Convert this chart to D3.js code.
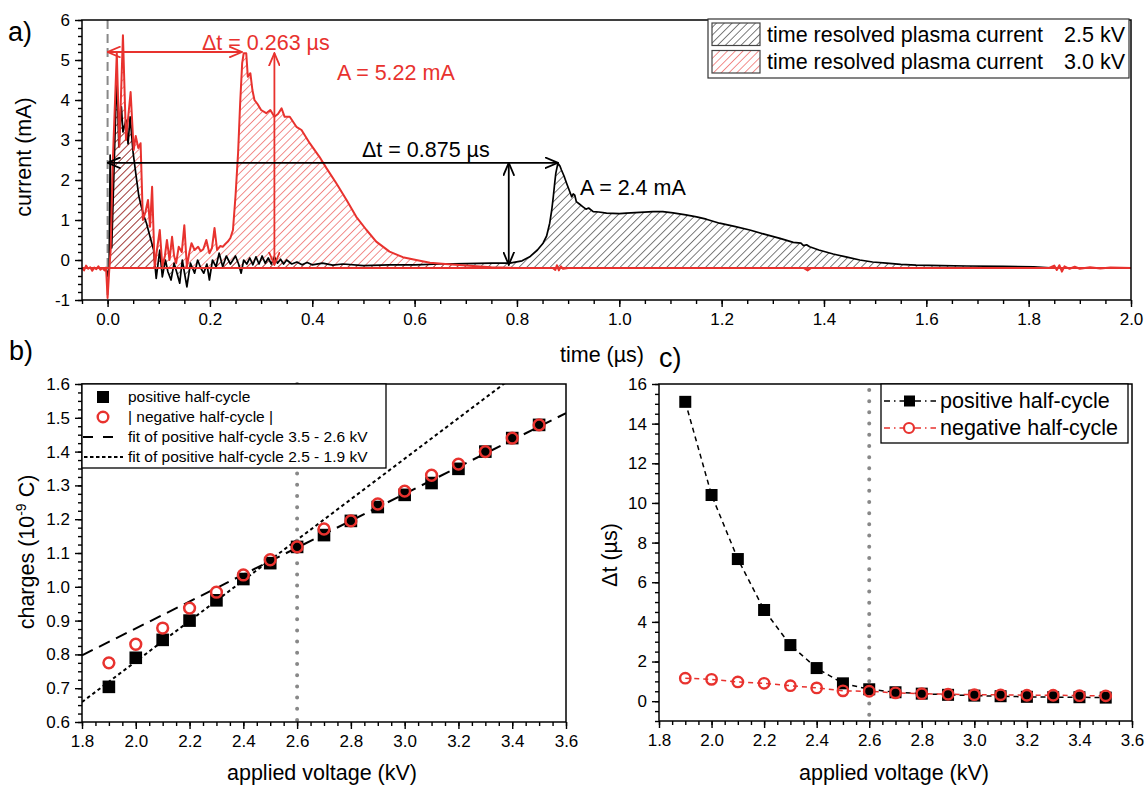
<!DOCTYPE html>
<html>
<head>
<meta charset="utf-8">
<script src="https://cdn.jsdelivr.net/npm/d3@7"></script>
<style>
  body { margin: 0; background: #fff; }
  svg { font-family: "Liberation Sans", Arial, sans-serif; }
</style>
</head>
<body>
<svg id="chart" width="1146" height="787"></svg>
<script>
// ---------- data ----------
// a) time resolved plasma current, [time (µs), current (mA)]
const trace30kV = [[-0.05,-0.2],[-0.046,-0.26],[-0.042,-0.14],[-0.038,-0.22],[-0.034,-0.18],[-0.03,-0.27],[-0.026,-0.19],[-0.022,-0.23],[-0.018,-0.16],[-0.014,-0.24],[-0.01,-0.2],[-0.006,-0.26],[-0.003,-0.19],[0,-0.95],[0.003,-0.3],[0.006,0.25],[0.01,2.4],[0.018,5.17],[0.023,2.83],[0.03,5.62],[0.036,3.0],[0.045,4.2],[0.051,2.75],[0.055,3.1],[0.06,2.8],[0.0645,2.92],[0.069,1.0],[0.074,1.2],[0.079,1.5],[0.083,0.83],[0.087,1.83],[0.092,-0.17],[0.097,0.3],[0.102,0.75],[0.107,-0.15],[0.112,0.1],[0.116,0.5],[0.121,0.0],[0.126,0.58],[0.13,0.1],[0.134,-0.08],[0.139,0.33],[0.145,0.2],[0.15,0.87],[0.155,-0.17],[0.16,0.2],[0.164,0.42],[0.17,0.25],[0.177,0.33],[0.182,0.22],[0.187,0.27],[0.193,0.5],[0.199,0.17],[0.204,0.3],[0.209,0.8],[0.214,0.25],[0.22,0.35],[0.225,0.33],[0.23,0.4],[0.235,0.46],[0.24,0.55],[0.245,0.75],[0.25,1.6],[0.255,2.67],[0.259,3.9],[0.263,4.92],[0.266,5.17],[0.271,5.17],[0.274,4.58],[0.279,4.67],[0.283,4.25],[0.287,4.0],[0.293,3.9],[0.3,3.75],[0.31,3.67],[0.318,3.75],[0.326,3.58],[0.333,3.65],[0.34,3.79],[0.346,3.58],[0.356,3.58],[0.369,3.33],[0.379,3.25],[0.395,2.92],[0.414,2.58],[0.428,2.29],[0.447,1.92],[0.467,1.5],[0.486,1.08],[0.506,0.75],[0.525,0.46],[0.551,0.21],[0.577,0.07],[0.603,0.0],[0.63,-0.07],[0.66,-0.1],[0.7,-0.14],[0.75,-0.18],[0.8,-0.2],[0.87,-0.2],[0.875,-0.25],[0.878,-0.13],[0.882,-0.26],[0.886,-0.16],[0.89,-0.22],[0.9,-0.2],[1.36,-0.2],[1.368,-0.26],[1.375,-0.2],[1.84,-0.2],[1.85,-0.14],[1.855,-0.25],[1.86,-0.13],[1.865,-0.29],[1.87,-0.16],[1.88,-0.22],[1.89,-0.17],[1.9,-0.22],[1.92,-0.18],[1.94,-0.21],[1.96,-0.19],[2.0,-0.2]];

const trace25kV = [[-0.05,-0.2],[-0.003,-0.2],[0,-0.4],[0.003,-0.2],[0.005,2.62],[0.008,0.3],[0.012,2.0],[0.018,4.67],[0.022,2.83],[0.027,3.83],[0.03,3.2],[0.036,3.5],[0.04,2.9],[0.044,3.58],[0.05,2.67],[0.056,2.08],[0.061,1.6],[0.066,1.33],[0.071,1.1],[0.076,0.92],[0.083,0.58],[0.09,0.25],[0.095,-0.46],[0.102,0.25],[0.107,-0.42],[0.113,0.0],[0.118,-0.3],[0.124,-0.5],[0.13,-0.08],[0.135,-0.3],[0.141,-0.58],[0.146,0.0],[0.15,-0.3],[0.155,-0.67],[0.162,-0.08],[0.17,-0.33],[0.176,0.0],[0.182,-0.2],[0.188,-0.33],[0.194,-0.1],[0.199,-0.5],[0.205,0.0],[0.212,-0.17],[0.218,0.17],[0.225,-0.17],[0.232,0.1],[0.24,-0.1],[0.25,0.1],[0.256,-0.1],[0.261,-0.33],[0.266,0.0],[0.272,-0.1],[0.278,0.05],[0.284,-0.12],[0.29,0.08],[0.296,-0.1],[0.302,0.1],[0.308,-0.08],[0.314,0.05],[0.32,-0.1],[0.326,0.08],[0.332,-0.08],[0.338,0.02],[0.344,-0.1],[0.35,0.0],[0.36,-0.1],[0.37,-0.05],[0.38,-0.12],[0.39,-0.06],[0.4,-0.12],[0.42,-0.08],[0.44,-0.13],[0.46,-0.1],[0.5,-0.14],[0.55,-0.12],[0.6,-0.12],[0.65,-0.1],[0.7,-0.09],[0.75,-0.08],[0.786,-0.08],[0.81,-0.02],[0.825,0.08],[0.84,0.25],[0.851,0.42],[0.858,0.6],[0.864,0.92],[0.868,1.25],[0.871,1.58],[0.874,1.95],[0.876,2.17],[0.88,2.42],[0.884,2.35],[0.887,2.25],[0.892,2.1],[0.897,1.92],[0.902,1.75],[0.907,1.58],[0.91,1.65],[0.913,1.62],[0.916,1.46],[0.922,1.4],[0.929,1.33],[0.935,1.27],[0.94,1.3],[0.949,1.21],[0.96,1.2],[0.975,1.17],[1.0,1.16],[1.014,1.17],[1.04,1.19],[1.066,1.21],[1.085,1.21],[1.105,1.18],[1.13,1.13],[1.151,1.08],[1.17,1.02],[1.196,0.92],[1.225,0.84],[1.255,0.75],[1.285,0.64],[1.314,0.54],[1.34,0.44],[1.355,0.42],[1.36,0.36],[1.366,0.38],[1.372,0.33],[1.39,0.25],[1.418,0.15],[1.445,0.07],[1.47,0.0],[1.495,-0.05],[1.522,-0.08],[1.55,-0.11],[1.58,-0.13],[1.63,-0.14],[1.679,-0.15],[1.75,-0.16],[1.81,-0.17],[1.85,-0.2],[2.0,-0.2]];

const baseline = -0.2;
const timeTicks = [0, 0.2, 0.4, 0.6, 0.8, 1.0, 1.2, 1.4, 1.6, 1.8, 2.0];
const currentTicks = [-1, 0, 1, 2, 3, 4, 5, 6];
const legendA = [["time resolved plasma current", "2.5 kV"], ["time resolved plasma current", "3.0 kV"]];

// b) and c)
const voltage   = [1.9, 2.0, 2.1, 2.2, 2.3, 2.4, 2.5, 2.6, 2.7, 2.8, 2.9, 3.0, 3.1, 3.2, 3.3, 3.4, 3.5];
const chargePos = [0.704, 0.79, 0.843, 0.90, 0.96, 1.023, 1.07, 1.118, 1.153, 1.195, 1.236, 1.272, 1.307, 1.349, 1.40, 1.44, 1.479];
const chargeNeg = [0.775, 0.83, 0.878, 0.937, 0.984, 1.035, 1.08, 1.118, 1.171, 1.195, 1.245, 1.283, 1.33, 1.363, 1.40, 1.44, 1.479];
const fitHigh = [0.081, 0.398];   // intercept, slope (3.5 - 2.6 kV)
const fitLow  = [-0.421, 0.60];   // intercept, slope (2.5 - 1.9 kV)
const dtPos = [15.1, 10.4, 7.17, 4.6, 2.83, 1.67, 0.9, 0.6, 0.45, 0.38, 0.32, 0.28, 0.25, 0.22, 0.2, 0.2, 0.18];
const dtNeg = [1.16, 1.1, 0.97, 0.9, 0.78, 0.67, 0.52, 0.5, 0.42, 0.38, 0.35, 0.33, 0.32, 0.3, 0.3, 0.28, 0.27];
const voltTicks = [1.8, 2.0, 2.2, 2.4, 2.6, 2.8, 3.0, 3.2, 3.4, 3.6];
const chargeTicks = [0.6, 0.7, 0.8, 0.9, 1.0, 1.1, 1.2, 1.3, 1.4, 1.5, 1.6];
const dtTicks = [0, 2, 4, 6, 8, 10, 12, 14, 16];
const thresholdVoltage = 2.6;

const RED = "#e8322e";
const FONT = "Liberation Sans, Arial, sans-serif";

const svg = d3.select("#chart");
const defs = svg.append("defs");

// hatch patterns
function hatch(id, color) {
  const p = defs.append("pattern").attr("id", id).attr("patternUnits", "userSpaceOnUse")
    .attr("width", 5.5).attr("height", 5.5).attr("patternTransform", "rotate(45)");
  p.append("line").attr("x1", 0).attr("y1", 0).attr("x2", 0).attr("y2", 5.5)
    .attr("stroke", color).attr("stroke-width", 1.1);
}
hatch("hatchBlack", "#111");
hatch("hatchRed", RED);

// open arrow heads
function arrowHead(id, color) {
  defs.append("marker").attr("id", id).attr("viewBox", "0 0 14 12")
    .attr("refX", 13).attr("refY", 6).attr("markerWidth", 14).attr("markerHeight", 12)
    .attr("markerUnits", "userSpaceOnUse").attr("orient", "auto-start-reverse")
    .append("path").attr("d", "M0,0.5 L13,6 L0,11.5").attr("fill", "none")
    .attr("stroke", color).attr("stroke-width", 1.8);
}
arrowHead("arrRed", RED);
arrowHead("arrBlack", "#000");

function clip(id, x, y, w, h) {
  defs.append("clipPath").attr("id", id).append("rect")
    .attr("x", x).attr("y", y).attr("width", w).attr("height", h);
}

// draws left + bottom axes with major and minor ticks, plus the frame
function axes(g, x, y, o) {
  const [x0, x1] = x.range(), [y0, y1] = y.range();
  const style = sel => sel.attr("font-size", 17).attr("font-family", FONT)
    .call(s => s.select(".domain").remove())
    .call(s => s.selectAll("line").attr("stroke-width", 1.4));
  g.append("g").attr("transform", `translate(0,${y0})`)
    .call(d3.axisBottom(x).tickValues(o.xMinor).tickSize(4).tickFormat("")).call(style);
  g.append("g").attr("transform", `translate(0,${y0})`)
    .call(d3.axisBottom(x).tickValues(o.xMajor).tickSize(7).tickPadding(6).tickFormat(o.xFmt)).call(style);
  g.append("g").attr("transform", `translate(${x0},0)`)
    .call(d3.axisLeft(y).tickValues(o.yMinor).tickSize(4).tickFormat("")).call(style);
  g.append("g").attr("transform", `translate(${x0},0)`)
    .call(d3.axisLeft(y).tickValues(o.yMajor).tickSize(7).tickPadding(5).tickFormat(o.yFmt)).call(style);
  g.append("rect").attr("x", x0).attr("y", y1).attr("width", x1 - x0).attr("height", y0 - y1)
    .attr("fill", "none").attr("stroke", "#000").attr("stroke-width", 1.5);
}

function label(g, txt, x, y, size, opts = {}) {
  const t = g.append("text").attr("x", x).attr("y", y).attr("font-size", size)
    .attr("fill", opts.fill || "#000").attr("text-anchor", opts.anchor || "start").text(txt);
  if (opts.rotate) t.attr("transform", `rotate(-90,${x},${y})`);
  return t;
}

// ---------- panel a ----------
const xA = d3.scaleLinear().domain([-0.05, 2.0]).range([82, 1131]);
const yA = d3.scaleLinear().domain([-1, 6]).range([300, 20]);
const gA = svg.append("g");
clip("clipA", 82, 20, 1049, 280);
const plotA = gA.append("g").attr("clip-path", "url(#clipA)");

const areaA = d3.area().x(d => xA(d[0])).y0(yA(baseline)).y1(d => yA(d[1]));
const lineA = d3.line().x(d => xA(d[0])).y(d => yA(d[1]));

plotA.append("line").attr("x1", xA(0)).attr("x2", xA(0)).attr("y1", yA(6)).attr("y2", yA(-1))
  .attr("stroke", "#888").attr("stroke-width", 2).attr("stroke-dasharray", "9,5");
plotA.append("path").datum(trace25kV).attr("d", areaA).attr("fill", "url(#hatchBlack)");
plotA.append("path").datum(trace30kV).attr("d", areaA).attr("fill", "url(#hatchRed)");
plotA.append("path").datum(trace25kV).attr("d", lineA).attr("fill", "none")
  .attr("stroke", "#000").attr("stroke-width", 1.7).attr("stroke-linejoin", "round");
plotA.append("line").attr("x1", xA(-0.05)).attr("x2", xA(2.0)).attr("y1", yA(baseline)).attr("y2", yA(baseline))
  .attr("stroke", RED).attr("stroke-width", 2.2);
plotA.append("path").datum(trace30kV).attr("d", lineA).attr("fill", "none")
  .attr("stroke", RED).attr("stroke-width", 2).attr("stroke-linejoin", "round");

axes(gA, xA, yA, {
  xMajor: timeTicks, xMinor: d3.range(0, 42).map(i => -0.05 + i * 0.05), xFmt: d3.format(".1f"),
  yMajor: currentTicks, yMinor: d3.range(0, 36).map(i => -1 + i * 0.2), yFmt: d => String(d)
});

// annotations (data units)
function arrow(g, t0, v0, t1, v1, color, id) {
  g.append("line").attr("x1", xA(t0)).attr("y1", yA(v0)).attr("x2", xA(t1)).attr("y2", yA(v1))
    .attr("stroke", color).attr("stroke-width", 1.8)
    .attr("marker-start", `url(#${id})`).attr("marker-end", `url(#${id})`);
}
arrow(gA, 0, 5.2, 0.263, 5.2, RED, "arrRed");
arrow(gA, 0.326, 5.17, 0.326, -0.12, RED, "arrRed");
arrow(gA, 0, 2.43, 0.88, 2.43, "#000", "arrBlack");
arrow(gA, 0.784, 2.43, 0.784, -0.12, "#000", "arrBlack");
label(gA, "Δt = 0.263 µs", 202, 50, 21.5, { fill: RED });
label(gA, "A = 5.22 mA", 337, 80, 21.5, { fill: RED });
label(gA, "Δt = 0.875 µs", 362, 157, 21.5);
label(gA, "A = 2.4 mA", 580, 195, 21.5);

// legend a
const legA = gA.append("g");
legA.append("rect").attr("x", 708).attr("y", 19).attr("width", 421).attr("height", 59)
  .attr("fill", "#fff").attr("stroke", "#333").attr("stroke-width", 1.2);
legendA.forEach(([txt, kv], i) => {
  legA.append("rect").attr("x", 712).attr("y", 23 + i * 27.5).attr("width", 48).attr("height", 22.5)
    .attr("fill", `url(#${i === 0 ? "hatchBlack" : "hatchRed"})`).attr("stroke", "#444").attr("stroke-width", 1.2);
  label(legA, txt, 767, 42 + i * 27, 21.5);
  label(legA, kv, 1125, 42 + i * 27, 21.5, { anchor: "end" });
});

label(gA, "current (mA)", 31, 157, 21.5, { rotate: true, anchor: "middle" });
label(gA, "time (µs)", 602, 362, 21.5, { anchor: "middle" });
label(svg, "a)", 8, 41, 27);

// ---------- panel b ----------
const xB = d3.scaleLinear().domain([1.8, 3.6]).range([82, 566]);
const yB = d3.scaleLinear().domain([0.6, 1.6]).range([722, 384]);
const gB = svg.append("g");
clip("clipB", 82, 384, 484, 338);
const plotB = gB.append("g").attr("clip-path", "url(#clipB)");

const fitLine = c => d3.line().x(v => xB(v)).y(v => yB(c[0] + c[1] * v));
plotB.append("path").datum([1.8, 3.6]).attr("d", fitLine(fitHigh)).attr("fill", "none")
  .attr("stroke", "#000").attr("stroke-width", 2).attr("stroke-dasharray", "12,7");
plotB.append("path").datum([1.8, 3.6]).attr("d", fitLine(fitLow)).attr("fill", "none")
  .attr("stroke", "#000").attr("stroke-width", 2).attr("stroke-dasharray", "3.5,3");

gB.append("line").attr("x1", xB(thresholdVoltage)).attr("x2", xB(thresholdVoltage))
  .attr("y1", yB(1.6)).attr("y2", yB(0.6)).attr("stroke", "#888").attr("stroke-width", 4)
  .attr("stroke-linecap", "round").attr("stroke-dasharray", "0,11.2");

axes(gB, xB, yB, {
  xMajor: voltTicks, xMinor: d3.range(0, 37).map(i => 1.8 + i * 0.05), xFmt: d3.format(".1f"),
  yMajor: chargeTicks, yMinor: d3.range(0, 41).map(i => 0.6 + i * 0.025), yFmt: d3.format(".1f")
});

// legend b
const legB = gB.append("g");
legB.append("rect").attr("x", 82).attr("y", 384).attr("width", 304).attr("height", 84)
  .attr("fill", "#fff").attr("stroke", "#000").attr("stroke-width", 1.3);
legB.append("rect").attr("x", 97).attr("y", 391).attr("width", 12).attr("height", 12).attr("fill", "#000");
legB.append("circle").attr("cx", 103).attr("cy", 417).attr("r", 5.3).attr("fill", "none")
  .attr("stroke", RED).attr("stroke-width", 2.4);
legB.append("line").attr("x1", 83).attr("x2", 113).attr("y1", 437).attr("y2", 437)
  .attr("stroke", "#000").attr("stroke-width", 2).attr("stroke-dasharray", "10,10");
legB.append("line").attr("x1", 84).attr("x2", 123).attr("y1", 457).attr("y2", 457)
  .attr("stroke", "#000").attr("stroke-width", 2).attr("stroke-dasharray", "3.5,2.5");
["positive half-cycle", "| negative half-cycle |", "fit of positive half-cycle 3.5 - 2.6 kV",
 "fit of positive half-cycle 2.5 - 1.9 kV"].forEach((t, i) => label(legB, t, 128, 402 + i * 20, 15.5));

gB.selectAll(".sq").data(d3.zip(voltage, chargePos)).join("rect").attr("class", "sq")
  .attr("x", d => xB(d[0]) - 6.3).attr("y", d => yB(d[1]) - 6.3).attr("width", 12.6).attr("height", 12.6)
  .attr("fill", "#000");
gB.selectAll(".ci").data(d3.zip(voltage, chargeNeg)).join("circle").attr("class", "ci")
  .attr("cx", d => xB(d[0])).attr("cy", d => yB(d[1])).attr("r", 5.4)
  .attr("fill", "none").attr("stroke", RED).attr("stroke-width", 2.5);

const tB = label(gB, "charges (10", 34, 552, 21.5, { rotate: true, anchor: "middle" });
tB.append("tspan").attr("baseline-shift", "super").attr("font-size", 14).text("-9");
tB.append("tspan").text(" C)");
label(gB, "applied voltage (kV)", 322, 780, 21.5, { anchor: "middle" });
label(svg, "b)", 9, 360, 27);

// ---------- panel c ----------
const xC = d3.scaleLinear().domain([1.8, 3.6]).range([659, 1132]);
const yC = d3.scaleLinear().domain([-1, 16]).range([721, 384]);
const gC = svg.append("g");

gC.append("line").attr("x1", xC(thresholdVoltage)).attr("x2", xC(thresholdVoltage))
  .attr("y1", yC(15.7)).attr("y2", yC(-1)).attr("stroke", "#888").attr("stroke-width", 4)
  .attr("stroke-linecap", "round").attr("stroke-dasharray", "0,11.2");

axes(gC, xC, yC, {
  xMajor: voltTicks, xMinor: d3.range(0, 37).map(i => 1.8 + i * 0.05), xFmt: d3.format(".1f"),
  yMajor: dtTicks, yMinor: d3.range(0, 35).map(i => -1 + i * 0.5), yFmt: d => String(d)
});

const lineC = d3.line().x(d => xC(d[0])).y(d => yC(d[1]));
gC.append("path").datum(d3.zip(voltage, dtPos)).attr("d", lineC).attr("fill", "none")
  .attr("stroke", "#000").attr("stroke-width", 1.5).attr("stroke-dasharray", "5,4");
gC.append("path").datum(d3.zip(voltage, dtNeg)).attr("d", lineC).attr("fill", "none")
  .attr("stroke", RED).attr("stroke-width", 1.5).attr("stroke-dasharray", "5,4");
gC.selectAll(".sq").data(d3.zip(voltage, dtPos)).join("rect").attr("class", "sq")
  .attr("x", d => xC(d[0]) - 6).attr("y", d => yC(d[1]) - 6).attr("width", 12).attr("height", 12)
  .attr("fill", "#000");
gC.selectAll(".ci").data(d3.zip(voltage, dtNeg)).join("circle").attr("class", "ci")
  .attr("cx", d => xC(d[0])).attr("cy", d => yC(d[1])).attr("r", 5.2)
  .attr("fill", "none").attr("stroke", RED).attr("stroke-width", 2.4);

// legend c
const legC = gC.append("g");
legC.append("rect").attr("x", 881).attr("y", 384).attr("width", 247).attr("height", 59)
  .attr("fill", "#fff").attr("stroke", "#000").attr("stroke-width", 1.3);
[["#000", "positive half-cycle"], [RED, "negative half-cycle"]].forEach(([c, t], i) => {
  const yy = 401 + i * 27;
  legC.append("line").attr("x1", 884).attr("x2", 936).attr("y1", yy).attr("y2", yy)
    .attr("stroke", c).attr("stroke-width", 1.5).attr("stroke-dasharray", "6,4,1.5,4");
  if (i === 0) legC.append("rect").attr("x", 904).attr("y", yy - 5.5).attr("width", 11).attr("height", 11).attr("fill", "#000");
  else legC.append("circle").attr("cx", 909).attr("cy", yy).attr("r", 5).attr("fill", "#fff")
    .attr("stroke", RED).attr("stroke-width", 2.2);
  label(legC, t, 940, yy + 7, 21.5);
});

label(gC, "Δt (µs)", 617, 555, 21.5, { rotate: true, anchor: "middle" });
label(gC, "applied voltage (kV)", 894, 780, 21.5, { anchor: "middle" });
label(svg, "c)", 659, 367, 27);
</script>
</body>
</html>
